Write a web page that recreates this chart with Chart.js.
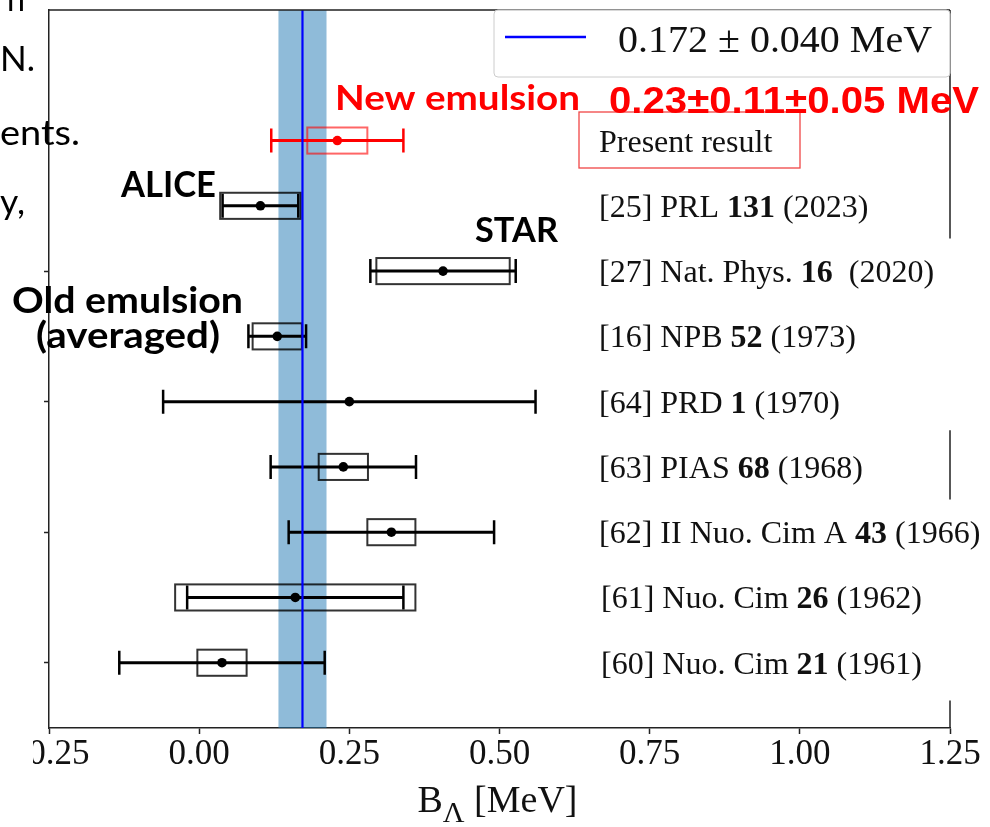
<!DOCTYPE html>
<html>
<head>
<meta charset="utf-8">
<script src="https://cdn.jsdelivr.net/npm/chart.js@4.4.0/dist/chart.umd.min.js"></script>
<style>
  html, body { margin: 0; padding: 0; background: #fff; }
  canvas { display: block; }
</style>
</head>
<body>
<canvas id="chart" width="990" height="827"></canvas>
<script>
// rows listed from top to bottom
const rowPos  = [9, 8, 7, 6, 5, 4, 3, 2, 1];
const central = [0.23, 0.102, 0.406, 0.13, 0.25, 0.24, 0.32, 0.16, 0.038];
const statErr = [0.11, 0.063, 0.121, 0.048, 0.31, 0.121, 0.171, 0.18, 0.171];
const sysErr  = [0.05, 0.067, 0.111, 0.041, null, 0.041, 0.04, 0.20, 0.041];

// reference labels: plain part, bold volume, year
const refPre  = ["[25] PRL ", "[27] Nat. Phys. ", "[16] NPB ", "[64] PRD ", "[63] PIAS ",
                 "[62] II Nuo. Cim A ", "[61] Nuo. Cim ", "[60] Nuo. Cim "];
const refVol  = ["131", "16", "52", "1", "68", "43", "26", "21"];
const refYear = [" (2023)", "  (2020)", " (1973)", " (1970)", " (1968)", " (1966)", " (1962)", " (1961)"];

const meanVal = 0.172;
const meanErr = 0.040;
const legendText = "0.172 \u00b1 0.040 MeV";

const xTicks = [-0.25, 0, 0.25, 0.5, 0.75, 1.0, 1.25];
const yTicks = [1, 3, 5, 7];
const xMin = -0.25, xMax = 1.25, yMin = 0, yMax = 11;

const SERIF = "'Liberation Serif', 'Times New Roman', serif";
const SANS = "Lato, 'Open Sans', sans-serif";
const RED = "#ff0000";

// draw text squeezed/stretched horizontally to a given width
function fitText(ctx, text, x, y, w, font, color) {
    ctx.save();
    ctx.font = font;
    ctx.fillStyle = color;
    ctx.textAlign = "left";
    ctx.textBaseline = "alphabetic";
    const m = ctx.measureText(text).width;
    ctx.translate(x, y);
    ctx.scale(w / m, 1);
    ctx.fillText(text, 0, 0);
    ctx.restore();
}

function plainText(ctx, text, x, y, font, color, align) {
    ctx.save();
    ctx.font = font;
    ctx.fillStyle = color;
    ctx.textAlign = align || "left";
    ctx.textBaseline = "alphabetic";
    ctx.fillText(text, x, y);
    ctx.restore();
}

const errorPlugin = {
    id: "errorPlugin",
    beforeDatasetsDraw(chart) {
        const { ctx, chartArea: a, scales: { x, y } } = chart;
        ctx.save();
        // averaged band
        ctx.fillStyle = "rgba(31,119,180,0.5)";
        const b0 = x.getPixelForValue(meanVal - meanErr);
        const b1 = x.getPixelForValue(meanVal + meanErr);
        ctx.fillRect(b0, a.top, b1 - b0, a.bottom - a.top);

        const boxHalf = 0.2;
        const cap = 12;
        central.forEach((v, i) => {
            const isNew = i === 0;
            const py = y.getPixelForValue(rowPos[i]);
            if (sysErr[i] != null) {
                const l = x.getPixelForValue(v - sysErr[i]);
                const r = x.getPixelForValue(v + sysErr[i]);
                const t = y.getPixelForValue(rowPos[i] + boxHalf);
                const bt = y.getPixelForValue(rowPos[i] - boxHalf);
                ctx.strokeStyle = isNew ? "rgba(255,0,0,0.6)" : "rgba(0,0,0,0.8)";
                ctx.lineWidth = 2;
                ctx.strokeRect(l, t, r - l, bt - t);
            }
            const l = x.getPixelForValue(v - statErr[i]);
            const r = x.getPixelForValue(v + statErr[i]);
            ctx.strokeStyle = isNew ? RED : "#000";
            ctx.lineWidth = 3;
            ctx.beginPath();
            ctx.moveTo(l, py); ctx.lineTo(r, py);
            ctx.stroke();
            ctx.lineWidth = 2.5;
            ctx.beginPath();
            ctx.moveTo(l, py - cap); ctx.lineTo(l, py + cap);
            ctx.moveTo(r, py - cap); ctx.lineTo(r, py + cap);
            ctx.stroke();
        });
        ctx.restore();
    },
    afterDraw(chart) {
        const { ctx, chartArea: a, scales: { x, y } } = chart;
        ctx.save();

        // top and right spines (right one partly hidden behind label images)
        ctx.strokeStyle = "#222";
        ctx.lineWidth = 1.5;
        ctx.beginPath();
        ctx.moveTo(a.left, a.top); ctx.lineTo(a.right, a.top);
        [[7.5, yMax], [3.5, 4.56], [yMin, 0.42]].forEach(([s, e]) => {
            ctx.moveTo(a.right, y.getPixelForValue(s));
            ctx.lineTo(a.right, y.getPixelForValue(e));
        });
        ctx.stroke();

        // legend
        ctx.fillStyle = "rgba(255,255,255,0.85)";
        ctx.strokeStyle = "#cccccc";
        ctx.lineWidth = 1;
        ctx.beginPath();
        ctx.roundRect(494, a.top, a.right - 494, 67, 4);
        ctx.fill();
        ctx.stroke();
        ctx.strokeStyle = "#0000ff";
        ctx.lineWidth = 2.5;
        ctx.beginPath();
        ctx.moveTo(505, 37); ctx.lineTo(586, 37);
        ctx.stroke();
        fitText(ctx, legendText, 618, 52, 314, "37px " + SERIF, "#111");

        // reference labels
        const refX = 599;
        ctx.strokeStyle = "rgba(240,50,50,0.9)";
        ctx.lineWidth = 1.3;
        ctx.strokeRect(579, 112, 221, 56);
        plainText(ctx, "Present result", refX, y.getPixelForValue(rowPos[0]) + 11.5, "32px " + SERIF, "#111");
        refPre.forEach((pre, i) => {
            const by = y.getPixelForValue(rowPos[i + 1]) + 11;
            let cx = refX + (i >= 6 ? 2 : 0);
            ctx.font = "32px " + SERIF;
            plainText(ctx, pre, cx, by, "32px " + SERIF, "#111");
            cx += ctx.measureText(pre).width;
            ctx.font = "bold 32px " + SERIF;
            plainText(ctx, refVol[i], cx, by, "bold 32px " + SERIF, "#111");
            cx += ctx.measureText(refVol[i]).width;
            plainText(ctx, refYear[i], cx, by, "32px " + SERIF, "#111");
        });

        // annotations
        fitText(ctx, "New emulsion", 335, 110, 245, "bold 34px " + SANS, RED);
        fitText(ctx, "0.23\u00b10.11\u00b10.05 MeV", 609, 113, 370, "bold 37px 'Liberation Sans', Arial, sans-serif", RED);
        fitText(ctx, "ALICE", 121, 197, 95, "bold 37px " + SANS, "#000");
        fitText(ctx, "STAR", 475, 242, 83, "bold 35px " + SANS, "#000");
        fitText(ctx, "Old emulsion", 12, 313, 231, "bold 37px " + SANS, "#000");
        fitText(ctx, "(averaged)", 36, 348, 184, "bold 37px " + SANS, "#000");

        // slide text fragments on the left
        const slideFont = "34px " + SANS;
        fitText(ctx, "n", 7, 11, 18, slideFont, "#000");
        fitText(ctx, "N.", 0, 71, 35, slideFont, "#000");
        fitText(ctx, "ents.", 0, 145, 80, slideFont, "#000");
        fitText(ctx, "y,", 0, 214, 25, slideFont, "#000");

        // x axis title  B_Λ [MeV]
        const tFont = "38px " + SERIF, sFont = "30px " + SERIF;
        ctx.font = tFont;
        const wB = ctx.measureText("B").width;
        const wRest = ctx.measureText(" [MeV]").width;
        ctx.font = sFont;
        const wL = ctx.measureText("\u039b").width;
        let tx = (a.left + a.right) / 2 - 2 - (wB + wL + wRest) / 2;
        plainText(ctx, "B", tx, 812, tFont, "#111");
        plainText(ctx, "\u039b", tx + wB, 822, sFont, "#111");
        plainText(ctx, " [MeV]", tx + wB + wL, 812, tFont, "#111");

        // the picture is cropped on the left: hide the start of the first tick label
        ctx.fillStyle = "#fff";
        ctx.fillRect(0, a.bottom + 8, 33, 50);
        ctx.restore();
    }
};

new Chart(document.getElementById("chart"), {
    type: "scatter",
    data: {
        datasets: [
            {
                type: "line",
                label: legendText,
                data: [{ x: meanVal, y: yMin }, { x: meanVal, y: yMax }],
                borderColor: "#0000ff",
                borderWidth: 2.2,
                pointRadius: 0,
                order: 0,
            },
            {
                label: "B",
                data: central.map((v, i) => ({ x: v, y: rowPos[i] })),
                pointRadius: 4.8,
                pointBorderWidth: 0,
                pointBackgroundColor: central.map((v, i) => (i === 0 ? RED : "#000")),
                order: 1,
            },
        ],
    },
    options: {
        responsive: false,
        animation: false,
        events: [],
        layout: { padding: { left: 44, right: 40, top: 10, bottom: 51 } },
        plugins: { legend: { display: false }, tooltip: { enabled: false } },
        scales: {
            x: {
                type: "linear",
                min: xMin,
                max: xMax,
                afterBuildTicks: (s) => { s.ticks = xTicks.map((v) => ({ value: v })); },
                ticks: {
                    padding: 0,
                    color: "#111",
                    font: { family: SERIF, size: 35 },
                    callback: (v) => (v < 0 ? "\u2212" + Math.abs(v).toFixed(2) : v.toFixed(2)),
                },
                grid: { drawOnChartArea: false, drawTicks: true, tickLength: 6, tickWidth: 1.5, tickColor: "#222" },
                border: { color: "#222", width: 1.5 },
            },
            y: {
                type: "linear",
                min: yMin,
                max: yMax,
                afterBuildTicks: (s) => { s.ticks = yTicks.map((v) => ({ value: v })); },
                ticks: { display: false },
                grid: { drawOnChartArea: false, drawTicks: true, tickLength: 5, tickWidth: 1.5, tickColor: "#222" },
                border: { color: "#222", width: 1.5 },
            },
        },
    },
    plugins: [errorPlugin],
});
</script>
</body>
</html>
